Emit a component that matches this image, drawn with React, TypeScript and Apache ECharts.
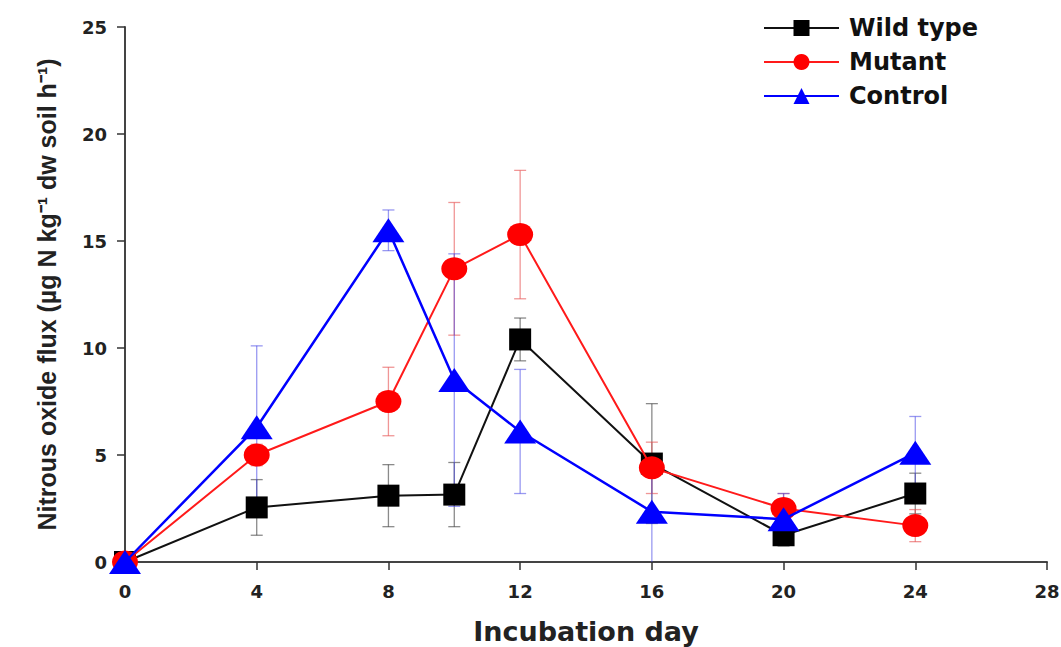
import React, { useEffect, useRef } from "react";
import * as echarts from "echarts";

const days = [0, 4, 8, 10, 12, 16, 20, 24];
const wildType = [0, 2.55, 3.1, 3.15, 10.4, 4.6, 1.25, 3.2];
const wildTypeErr = [0, 1.3, 1.45, 1.5, 1.0, 2.8, 0.5, 0.95];
const mutant = [0, 5.0, 7.5, 13.7, 15.3, 4.4, 2.5, 1.7];
const mutantErr = [0, 0.5, 1.6, 3.1, 3.0, 1.2, 0.7, 0.75];
const control = [0, 6.3, 15.5, 8.5, 6.1, 2.35, 2.0, 5.1];
const controlErr = [0, 3.8, 0.95, 5.9, 2.9, 2.6, 1.2, 1.7];

const xTicks = { min: 0, max: 28, interval: 4 };
const yTicks = { min: 0, max: 25, interval: 5 };

const WIDE = "'DejaVu Sans', Verdana, sans-serif";
const ARIAL = "'Liberation Sans', Arial, sans-serif";

function errorSeries(name: string, vals: number[], errs: number[], color: string) {
  return {
    type: "custom",
    name: name + " err",
    silent: true,
    z: 1,
    data: days.map((d, i) => [d, vals[i], errs[i]]),
    renderItem: (params: any, api: any) => {
      const x = api.value(0);
      const y = api.value(1);
      const e = api.value(2);
      if (!e) return { type: "group", children: [] };
      const hi = y + e;
      const lo = Math.max(y - e, 0);
      const pHi = api.coord([x, hi]);
      const pLo = api.coord([x, lo]);
      const half = 6;
      const style = { stroke: color, lineWidth: 1.3 };
      const children: any[] = [
        { type: "line", shape: { x1: pHi[0], y1: pHi[1], x2: pLo[0], y2: pLo[1] }, style },
        { type: "line", shape: { x1: pHi[0] - half, y1: pHi[1], x2: pHi[0] + half, y2: pHi[1] }, style },
      ];
      if (y - e > 0) {
        children.push({ type: "line", shape: { x1: pLo[0] - half, y1: pLo[1], x2: pLo[0] + half, y2: pLo[1] }, style });
      }
      return { type: "group", children };
    },
  };
}

export default function App() {
  const ref = useRef<HTMLDivElement>(null);
  useEffect(() => {
    if (!ref.current) return;
    const chart = echarts.init(ref.current, undefined, { renderer: "svg" });
    const labelStyle = { fontFamily: WIDE, fontWeight: "bold" as const, color: "#222", fontSize: 18 };
    chart.setOption({
      animation: false,
      backgroundColor: "#fff",
      grid: { left: 125, right: 14, top: 27, bottom: 85, containLabel: false, outerBoundsMode: "none" },
      legend: {
        orient: "vertical",
        left: 758,
        top: 11,
        itemWidth: 75,
        itemHeight: 20,
        itemGap: 10,
        data: ["Wild type", "Mutant", "Control"],
        textStyle: { fontFamily: WIDE, fontWeight: "bold", fontSize: 24, color: "#111", padding: [0, 0, 0, 5] },
      },
      xAxis: {
        type: "value",
        min: xTicks.min,
        max: xTicks.max,
        interval: xTicks.interval,
        name: "Incubation day",
        nameLocation: "middle",
        nameGap: 56,
        nameTextStyle: { fontFamily: WIDE, fontWeight: "bold", fontSize: 27, color: "#222" },
        axisLine: { lineStyle: { color: "#444", width: 2 } },
        axisTick: { length: 8, lineStyle: { color: "#333", width: 1.5 } },
        axisLabel: { ...labelStyle, margin: 20 },
        splitLine: { show: false },
      },
      yAxis: {
        type: "value",
        min: yTicks.min,
        max: yTicks.max,
        interval: yTicks.interval,
        name: "Nitrous oxide flux (\u00b5g N kg\u207b\u00b9 dw soil h\u207b\u00b9)",
        nameLocation: "middle",
        nameGap: 66,
        nameTextStyle: { fontFamily: ARIAL, fontWeight: "bold", fontSize: 25, color: "#222" },
        axisLine: { show: true, lineStyle: { color: "#444", width: 2 } },
        axisTick: { show: true, length: 8, lineStyle: { color: "#333", width: 1.5 } },
        axisLabel: { ...labelStyle, margin: 18 },
        splitLine: { show: false },
      },
      series: [
        errorSeries("Wild type", wildType, wildTypeErr, "rgba(60,60,60,0.6)"),
        errorSeries("Mutant", mutant, mutantErr, "rgba(230,80,80,0.6)"),
        errorSeries("Control", control, controlErr, "rgba(70,70,230,0.55)"),
        {
          type: "line",
          name: "Wild type",
          data: days.map((d, i) => [d, wildType[i]]),
          symbol: "rect",
          symbolSize: 22,
          itemStyle: { color: "#000" },
          lineStyle: { color: "#111", width: 2 },
          z: 3,
        },
        {
          type: "line",
          name: "Mutant",
          data: days.map((d, i) => [d, mutant[i]]),
          symbol: "circle",
          symbolSize: [26, 23],
          itemStyle: { color: "#ff0000" },
          lineStyle: { color: "#ff1a1a", width: 2 },
          z: 4,
        },
        {
          type: "line",
          name: "Control",
          data: days.map((d, i) => [d, control[i]]),
          symbol: "triangle",
          symbolSize: [32, 24],
          itemStyle: { color: "#0000ff" },
          lineStyle: { color: "#0000ff", width: 2.5 },
          z: 5,
        },
      ],
    });
    return () => chart.dispose();
  }, []);
  return (
    <div
      ref={ref}
      style={{ position: "absolute", left: 0, top: 0, width: 1061, height: 647 }}
    />
  );
}
